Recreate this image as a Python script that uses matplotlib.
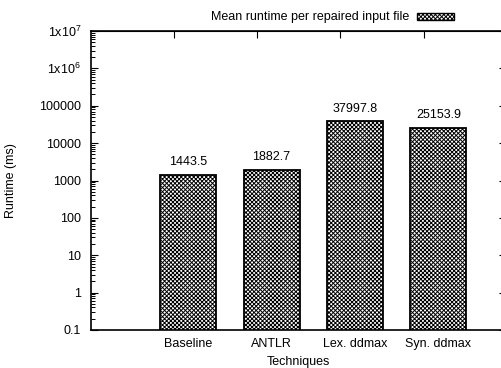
import matplotlib
matplotlib.use("Agg")
import matplotlib.pyplot as plt
from matplotlib.patches import Rectangle
from matplotlib.ticker import LogLocator
import numpy as np

plt.rcParams['font.family'] = ['Liberation Sans', 'DejaVu Sans']
plt.rcParams['mathtext.fontset'] = 'custom'
plt.rcParams['mathtext.rm'] = 'Liberation Sans'
plt.rcParams['mathtext.it'] = 'Liberation Sans'
plt.rcParams['hatch.linewidth'] = 0.7

# data
techniques = ['Baseline', 'ANTLR', 'Lex. ddmax', 'Syn. ddmax']
runtimes = [1443.5, 1882.7, 37997.8, 25153.9]
ytick_vals = [0.1, 1, 10, 100, 1000, 10000, 100000, 1e6, 1e7]
ytick_labels = ['0.1', '1', '10', '100', '1000', '10000', '100000',
                r'1x10$^{6}$', r'1x10$^{7}$']
legend_label = 'Mean runtime per repaired input file'

W, H = 501, 368
fig = plt.figure(figsize=(W / 100, H / 100), dpi=100)
ax = fig.add_axes([91 / W, 38 / H, (506 - 91) / W, (330 - 31) / H])

x = np.arange(len(techniques))
bars = ax.bar(x, runtimes, width=0.672, color='white', edgecolor='black',
              linewidth=1.3, hatch='xxxxxxxx', zorder=2)
for xi, v in zip(x, runtimes):
    ax.annotate('%.1f' % v, (xi, v), xytext=(0, 5), textcoords='offset points',
                ha='center', va='bottom', fontsize=9)

ax.set_yscale('log')
ax.set_ylim(0.1, 1e7)
ax.set_xlim(-1.164, 3.81)
ax.set_yticks(ytick_vals)
ax.set_yticklabels(ytick_labels)
ax.yaxis.set_minor_locator(LogLocator(base=10, subs=np.arange(2, 10), numticks=100))
ax.set_xticks(x)
ax.set_xticklabels(techniques)
ax.tick_params(axis='x', length=0, pad=6, labelsize=9)
ax.tick_params(axis='y', which='major', direction='in', length=5, width=0.8,
               right=True, labelsize=9, pad=7)
ax.tick_params(axis='y', which='minor', direction='in', length=3, width=0.7,
               left=True, right=False)
for s in ax.spines.values():
    s.set_linewidth(1.2)

top = ax.secondary_xaxis('top')
top.set_xticks(x - 0.175)
top.set_xticklabels([])
top.tick_params(direction='in', length=5, width=0.8)

ax.set_xlabel('Techniques', fontsize=9, labelpad=4)
ax.set_ylabel('Runtime (ms)', fontsize=9, labelpad=10)
ax.yaxis.set_label_coords(-0.178, 0.5)

# legend in the top margin
fig.text(409 / W, 1 - 17 / H, legend_label, ha='right', va='center', fontsize=9)
fig.patches.append(Rectangle((417 / W, 1 - 20 / H), 37 / W, 7 / H,
                             transform=fig.transFigure, facecolor='white',
                             edgecolor='black', linewidth=1.0, hatch='xxxxxxxx'))

fig.savefig('out.png', dpi=100)
